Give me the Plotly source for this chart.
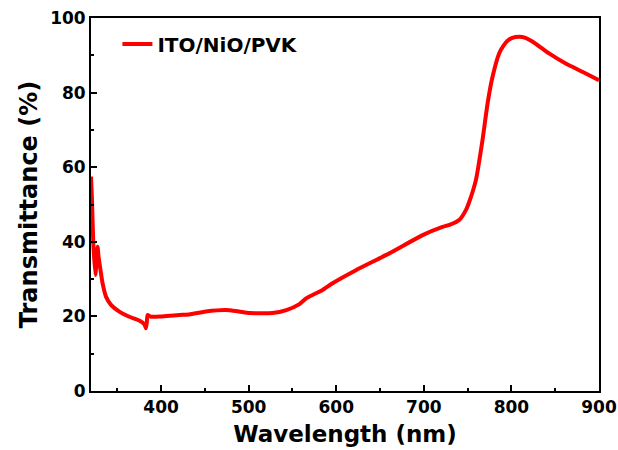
import plotly.graph_objects as go

wavelength = [320, 321, 322.6, 325, 326.2, 327.5, 328.6, 330.3, 333.2, 337.1, 342.8,
              352.3, 363.7, 375.1, 380.9, 382.8, 383.8, 384.6, 388.5, 400, 420.8,
              432, 451, 474, 489, 501, 527, 543, 558, 565.5, 584.4, 595.8, 622.5,
              660.6, 698.6, 721.4, 730, 741, 748, 752, 759.5, 767, 772.8, 778.5,
              786, 791, 795.6, 801, 809, 816, 824, 843, 862, 881, 900]
transmittance = [57.5, 52.0, 39.7, 31.1, 34.5, 38.7, 36.0, 33.3, 28.9, 25.3, 23.1,
                 21.3, 19.9, 18.9, 17.9, 16.8, 18.6, 20.4, 19.9, 20.0, 20.4,
                 20.5, 21.3, 21.7, 21.3, 20.9, 20.9, 21.7, 23.3, 24.8, 27.1, 28.9, 32.4,
                 36.9, 41.8, 44.0, 44.6, 46.0, 48.5, 50.8, 56.6, 67.3, 77.1, 84.3,
                 90.5, 92.6, 93.9, 94.7, 95.0, 94.7, 93.7, 90.5, 87.8, 85.6, 83.3]
series_name = "ITO/NiO/PVK"
x_ticks = [400, 500, 600, 700, 800, 900]
y_ticks = [0, 20, 40, 60, 80, 100]

FONT = "DejaVu Sans"

fig = go.Figure()
fig.add_trace(go.Scatter(x=wavelength, y=transmittance, mode="lines", name=series_name,
                         line=dict(color="#ff0000", width=4, shape="spline", smoothing=0.5)))

axis_common = dict(showline=True, linecolor="black", linewidth=1.8, mirror=True,
                   ticks="inside", ticklen=6, tickwidth=1.5, tickcolor="black",
                   showgrid=False, zeroline=False, automargin=False,
                   tickfont=dict(family=FONT, size=17, color="black", weight="bold"))

fig.update_xaxes(range=[320, 900], tickvals=x_ticks, ticktext=[str(v) for v in x_ticks],
                 minor=dict(ticks="inside", ticklen=3, tickwidth=1.5, tickcolor="black",
                            tickvals=[350, 450, 550, 650, 750, 850]),
                 title=dict(text="Wavelength (nm)", standoff=10,
                            font=dict(family=FONT, size=23, color="black", weight="bold")),
                 **axis_common)
fig.update_yaxes(range=[0, 100], tickvals=y_ticks, ticktext=[str(v) for v in y_ticks],
                 minor=dict(ticks="inside", ticklen=3, tickwidth=1.5, tickcolor="black",
                            tickvals=[10, 30, 50, 70, 90]),
                 title=dict(text="Transmittance (%)", standoff=6,
                            font=dict(family=FONT, size=24, color="black", weight="bold")),
                 **axis_common)

fig.update_layout(width=618, height=450,
                  margin=dict(l=91, r=19, t=18, b=59),
                  paper_bgcolor="white", plot_bgcolor="white",
                  showlegend=True,
                  legend=dict(x=0.052, y=0.93, xanchor="left", yanchor="middle",
                              bgcolor="rgba(0,0,0,0)",
                              font=dict(family=FONT, size=20, color="black", weight="bold")))

fig.write_html("out.html")
